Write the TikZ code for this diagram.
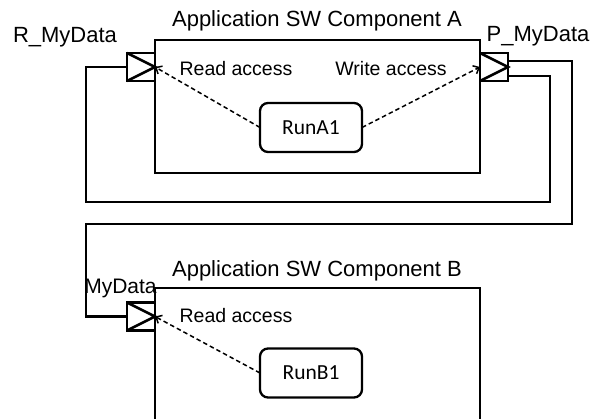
\documentclass[tikz,border=0pt]{standalone}
\usepackage{fontspec}
\setmainfont{Liberation Sans}
\newfontfamily\runfont{Carlito}
\usetikzlibrary{arrows.meta}
\begin{document}
\begin{tikzpicture}[x=1pt,y=-1pt,
  comp/.style={draw,line width=2.3pt,inner sep=0pt,outer sep=0pt},
  port/.style={draw,line width=2.6pt,minimum width=28pt,minimum height=28pt,inner sep=0pt,outer sep=0pt},
  tri/.style={line width=2.6pt},
  run/.style={draw,line width=2.3pt,rounded corners=8pt,minimum width=102pt,minimum height=49pt,inner sep=0pt,outer sep=0pt,font=\runfont\fontsize{21.5}{24}\selectfont},
  lbl/.style={font=\fontsize{22}{26}\selectfont,inner sep=0pt,anchor=base},
  acc/.style={font=\fontsize{19.5}{23}\selectfont,inner sep=0pt,anchor=base},
  wire/.style={line width=2.3pt},
  access/.style={line width=1.5pt,dash pattern=on 4.5pt off 3pt,-{Straight Barb[length=5pt,width=9pt]}}
]
\clip (0,0) rectangle (591,419);
\fill[white] (0,0) rectangle (591,419);
% components
\node[comp,minimum width=325pt,minimum height=133pt] (compA) at (317.5,106.5) {};
\node[comp,minimum width=325pt,minimum height=170pt] (compB) at (317.5,373) {};
% ports
\node[port] (rA) at (141,67) {};
\node[port] (pA) at (494,67) {};
\node[port] (rB) at (141,316.5) {};
\draw[tri] (rA.north west) -- (rA.east) -- (rA.south west);
\draw[tri] (pA.north west) -- (pA.east) -- (pA.south west);
\draw[tri] (rB.north west) -- (rB.east) -- (rB.south west);
% runnables
\node[run] (runA) at (311,127.5) {RunA1};
\node[run] (runB) at (311,373) {RunB1};
% wires
\coordinate (wl) at (86,0);
\draw[wire] ([yshift=-9pt]pA.east) -| (550,202) -| (rA.west -| wl) -- (rA.west);
\draw[wire] ([yshift=6pt]pA.east) -| (572,224) -| (rB.west -| wl) -- (rB.west);
% accesses
\draw[access] (runA.west) -- (rA.east);
\draw[access] (runA.east) -- (pA.west);
\draw[access] (runB.west) -- (rB.east);
% labels
\node[lbl] (titleA) at (317,27) {Application SW Component A};
\node[lbl] (titleB) at (317,277) {Application SW Component B};
\node[lbl] (rLbl) at (65,43) {R\_MyData};
\node[lbl] (pLbl) at (538,42) {P\_MyData};
\node[lbl,font=\fontsize{21}{25}\selectfont] (bLbl) at (120.5,294) {MyData};
\node[acc] (readA) at (236,76) {Read access};
\node[acc] (writeA) at (391,76) {Write access};
\node[acc] (readB) at (236,322.5) {Read access};
\end{tikzpicture}
\end{document}
